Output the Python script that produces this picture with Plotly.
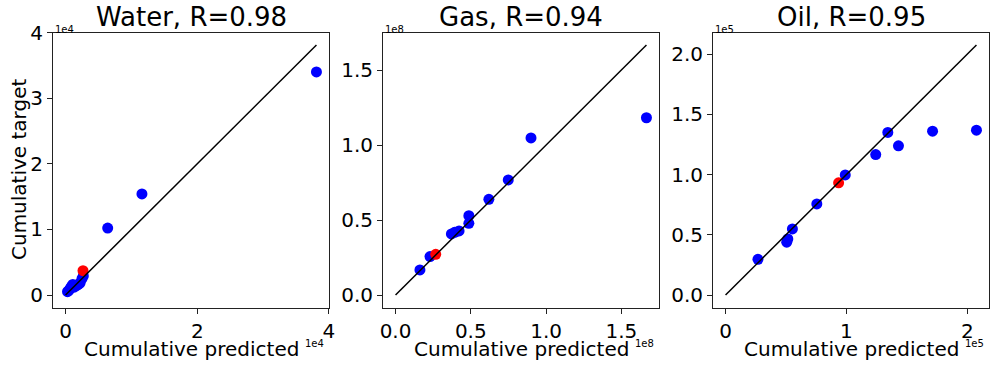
import plotly.graph_objects as go

W, H = 993, 365

titles = ["Water, R=0.98", "Gas, R=0.94", "Oil, R=0.95"]
exponents = [4, 8, 5]

# Water (values in real units)
water_pred = [0.03e4, 0.05e4, 0.07e4, 0.09e4, 0.11e4, 0.13e4, 0.16e4, 0.19e4, 0.22e4, 0.25e4, 0.27e4, 0.64e4, 1.16e4, 3.81e4]
water_target = [0.05e4, 0.07e4, 0.10e4, 0.13e4, 0.16e4, 0.12e4, 0.14e4, 0.16e4, 0.18e4, 0.25e4, 0.29e4, 1.02e4, 1.54e4, 3.40e4]
water_red_pred = [0.265e4]
water_red_target = [0.37e4]

# Gas
gas_pred = [0.162e8, 0.229e8, 0.371e8, 0.393e8, 0.422e8, 0.487e8, 0.487e8, 0.62e8, 0.749e8, 0.90e8, 1.667e8]
gas_target = [0.167e8, 0.256e8, 0.407e8, 0.418e8, 0.427e8, 0.478e8, 0.529e8, 0.638e8, 0.767e8, 1.047e8, 1.182e8]
gas_red_pred = [0.267e8]
gas_red_target = [0.271e8]

# Oil
oil_pred = [0.268e5, 0.506e5, 0.515e5, 0.553e5, 0.755e5, 0.99e5, 1.242e5, 1.342e5, 1.43e5, 1.712e5, 2.075e5]
oil_target = [0.296e5, 0.438e5, 0.465e5, 0.548e5, 0.756e5, 0.997e5, 1.166e5, 1.349e5, 1.238e5, 1.36e5, 1.368e5]
oil_red_pred = [0.935e5]
oil_red_target = [0.931e5]

x_ticks = [[0, 2, 4], [0.0, 0.5, 1.0, 1.5], [0, 1, 2]]
x_ticktext = [["0", "2", "4"], ["0.0", "0.5", "1.0", "1.5"], ["0", "1", "2"]]
y_ticks = [[0, 1, 2, 3, 4], [0.0, 0.5, 1.0, 1.5], [0.0, 0.5, 1.0, 1.5, 2.0]]
y_ticktext = [["0", "1", "2", "3", "4"], ["0.0", "0.5", "1.0", "1.5"], ["0.0", "0.5", "1.0", "1.5", "2.0"]]

panels = [
    (water_pred, water_target, water_red_pred, water_red_target),
    (gas_pred, gas_target, gas_red_pred, gas_red_target),
    (oil_pred, oil_target, oil_red_pred, oil_red_target),
]

left_px = [53, 383, 713]
right_px = [329, 659, 989]
top_px, bot_px = 32.5, 307.5


def px(x):
    return x / W


def py(y):
    return 1 - y / H


FONT = "DejaVu Sans"
fig = go.Figure()
annotations = []
layout = {}

for i, (p, t, rp, rt) in enumerate(panels):
    n = "" if i == 0 else str(i + 1)
    xa, ya = "x" + n, "y" + n
    mx = max(p + rp)
    fig.add_trace(go.Scatter(x=p, y=t, mode="markers", xaxis=xa, yaxis=ya,
                             marker=dict(color="#0000ff", size=11, line=dict(width=0)),
                             showlegend=False, hoverinfo="skip"))
    fig.add_trace(go.Scatter(x=rp, y=rt, mode="markers", xaxis=xa, yaxis=ya,
                             marker=dict(color="#ff0000", size=11, line=dict(width=0)),
                             showlegend=False, hoverinfo="skip"))
    fig.add_trace(go.Scatter(x=[0, mx], y=[0, mx], mode="lines", xaxis=xa, yaxis=ya,
                             line=dict(color="black", width=1.5),
                             showlegend=False, hoverinfo="skip"))
    allx = p + rp + [0, mx]
    ally = t + rt + [0, mx]

    def rng(v):
        lo, hi = min(v), max(v)
        d = (hi - lo) * 0.05
        return [lo - d, hi + d]
    scale = 10 ** exponents[i]
    common = dict(showgrid=False, zeroline=False, showline=True, linecolor="#222",
                  linewidth=1, mirror=True, ticks="outside", ticklen=5, tickwidth=1,
                  tickcolor="#222", automargin=False,
                  tickfont=dict(family=FONT, size=20, color="black"))
    layout["xaxis" + n] = dict(domain=[px(left_px[i]), px(right_px[i])], anchor=ya,
                               range=rng(allx), tickvals=[v * scale for v in x_ticks[i]],
                               ticktext=x_ticktext[i], **common)
    layout["yaxis" + n] = dict(domain=[py(bot_px), py(top_px)], anchor=xa,
                               range=rng(ally), tickvals=[v * scale for v in y_ticks[i]],
                               ticktext=y_ticktext[i], **common)
    cx = (left_px[i] + right_px[i]) / 2
    annotations.append(dict(text=titles[i], x=px(cx), y=py(17), xref="paper", yref="paper",
                            showarrow=False, xanchor="center", yanchor="middle",
                            font=dict(family=FONT, size=26, color="black")))
    annotations.append(dict(text="Cumulative predicted", x=px(cx), y=py(349), xref="paper",
                            yref="paper", showarrow=False, xanchor="center", yanchor="middle",
                            font=dict(family=FONT, size=20, color="black")))
    annotations.append(dict(text="1e%d" % exponents[i], x=px(left_px[i]), y=py(29),
                            xref="paper", yref="paper", showarrow=False, xanchor="left",
                            yanchor="middle", font=dict(family=FONT, size=10, color="black")))
    annotations.append(dict(text="1e%d" % exponents[i], x=px(right_px[i] - 3), y=py(343),
                            xref="paper", yref="paper", showarrow=False, xanchor="right",
                            yanchor="middle", font=dict(family=FONT, size=10, color="black")))

annotations.append(dict(text="Cumulative target", x=px(19), y=py(170), xref="paper",
                        yref="paper", showarrow=False, xanchor="center", yanchor="middle",
                        textangle=-90, font=dict(family=FONT, size=20, color="black")))

fig.update_layout(width=W, height=H, margin=dict(l=0, r=0, t=0, b=0),
                  paper_bgcolor="white", plot_bgcolor="white",
                  annotations=annotations, **layout)
fig.write_html("out.html", config={"displayModeBar": False},
               post_script="document.body.style.margin='0';document.body.style.overflow='hidden';")
